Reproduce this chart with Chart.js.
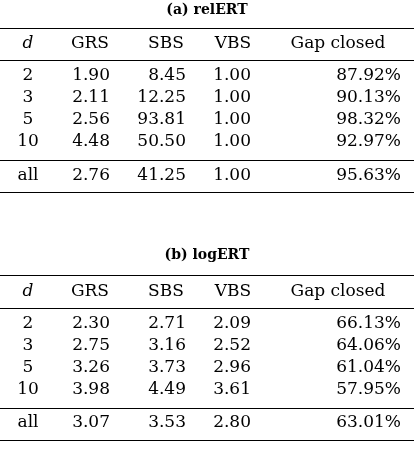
<!DOCTYPE html>
<html>
<head>
<meta charset="utf-8">
<script src="https://cdn.jsdelivr.net/npm/chart.js@4"></script>
<style>
  html, body { margin: 0; padding: 0; background: #fff; }
  #wrap { width: 414px; height: 458px; }
</style>
</head>
<body>
<div id="wrap"><canvas id="myChart"></canvas></div>
<script>
const titles = ['(a) relERT', '(b) logERT'];
const headers = ['d', 'GRS', 'SBS', 'VBS', 'Gap closed'];
const dims = ['2', '3', '5', '10', 'all'];

const relGRS = [1.90, 2.11, 2.56, 4.48, 2.76];
const relSBS = [8.45, 12.25, 93.81, 50.50, 41.25];
const relVBS = [1.00, 1.00, 1.00, 1.00, 1.00];
const relGap = [87.92, 90.13, 98.32, 92.97, 95.63];

const logGRS = [2.30, 2.75, 3.26, 3.98, 3.07];
const logSBS = [2.71, 3.16, 3.73, 4.49, 3.53];
const logVBS = [2.09, 2.52, 2.96, 3.61, 2.80];
const logGap = [66.13, 64.06, 61.04, 57.95, 63.01];

// layout
const colX = [28, 110, 186, 251, 401];
const headX = [28, 90, 166, 233, 338];
const tableY = [
  { title: 10, head: 44, rows: [76, 98, 120, 142, 176], lines: [28, 60, 160, 192] },
  { title: 255, head: 292, rows: [324, 346, 368, 390, 423], lines: [275, 308, 408, 440] }
];
const FONT = '"DejaVu Serif", "Liberation Serif", serif';

const tables = [
  [relGRS, relSBS, relVBS, relGap],
  [logGRS, logSBS, logVBS, logGap]
];

const datasets = [];
tables.forEach((cols, t) => {
  const L = tableY[t];
  datasets.push({ kind: 'title', data: [{ x: 207, y: L.title, label: titles[t] }] });
  datasets.push({ kind: 'head', data: headers.map((h, i) => ({ x: headX[i], y: L.head, label: h, italic: i === 0 })) });
  datasets.push({ kind: 'dim', data: dims.map((d, r) => ({ x: colX[0], y: L.rows[r], label: d })) });
  cols.forEach((vals, c) => {
    datasets.push({
      kind: 'num',
      data: vals.map((v, r) => ({ x: colX[c + 1], y: L.rows[r], label: v.toFixed(2) + (c === 3 ? '%' : '') }))
    });
  });
});

const tablePlugin = {
  id: 'tablePlugin',
  afterDraw(chart) {
    const ctx = chart.ctx;
    const xs = chart.scales.x, ys = chart.scales.y;
    ctx.save();
    ctx.fillStyle = '#000';
    ctx.textBaseline = 'middle';
    chart.data.datasets.forEach((ds, i) => {
      const meta = chart.getDatasetMeta(i);
      meta.data.forEach((el, j) => {
        const p = ds.data[j];
        if (ds.kind === 'title') {
          ctx.font = 'bold 14px ' + FONT; ctx.textAlign = 'center';
        } else if (ds.kind === 'head') {
          ctx.font = (p.italic ? 'italic ' : '') + '17px ' + FONT; ctx.textAlign = 'center';
        } else if (ds.kind === 'dim') {
          ctx.font = '17px ' + FONT; ctx.textAlign = 'center';
        } else {
          ctx.font = '17px ' + FONT; ctx.textAlign = 'right';
        }
        ctx.fillText(p.label, el.x, el.y);
      });
    });
    ctx.strokeStyle = '#000';
    ctx.lineWidth = 1;
    tableY.forEach(L => {
      L.lines.forEach(y => {
        const py = Math.round(ys.getPixelForValue(y)) + 0.5;
        ctx.beginPath();
        ctx.moveTo(xs.getPixelForValue(0), py);
        ctx.lineTo(xs.getPixelForValue(414), py);
        ctx.stroke();
      });
    });
    ctx.restore();
  }
};

new Chart(document.getElementById('myChart'), {
  type: 'scatter',
  data: { datasets: datasets.map(d => Object.assign({ pointRadius: 0, pointHoverRadius: 0 }, d)) },
  options: {
    responsive: true,
    maintainAspectRatio: false,
    animation: false,
    events: [],
    layout: { padding: 0 },
    plugins: { legend: { display: false }, tooltip: { enabled: false } },
    scales: {
      x: { type: 'linear', min: 0, max: 414, display: false },
      y: { type: 'linear', min: 0, max: 458, reverse: true, display: false }
    }
  },
  plugins: [tablePlugin]
});
</script>
</body>
</html>
